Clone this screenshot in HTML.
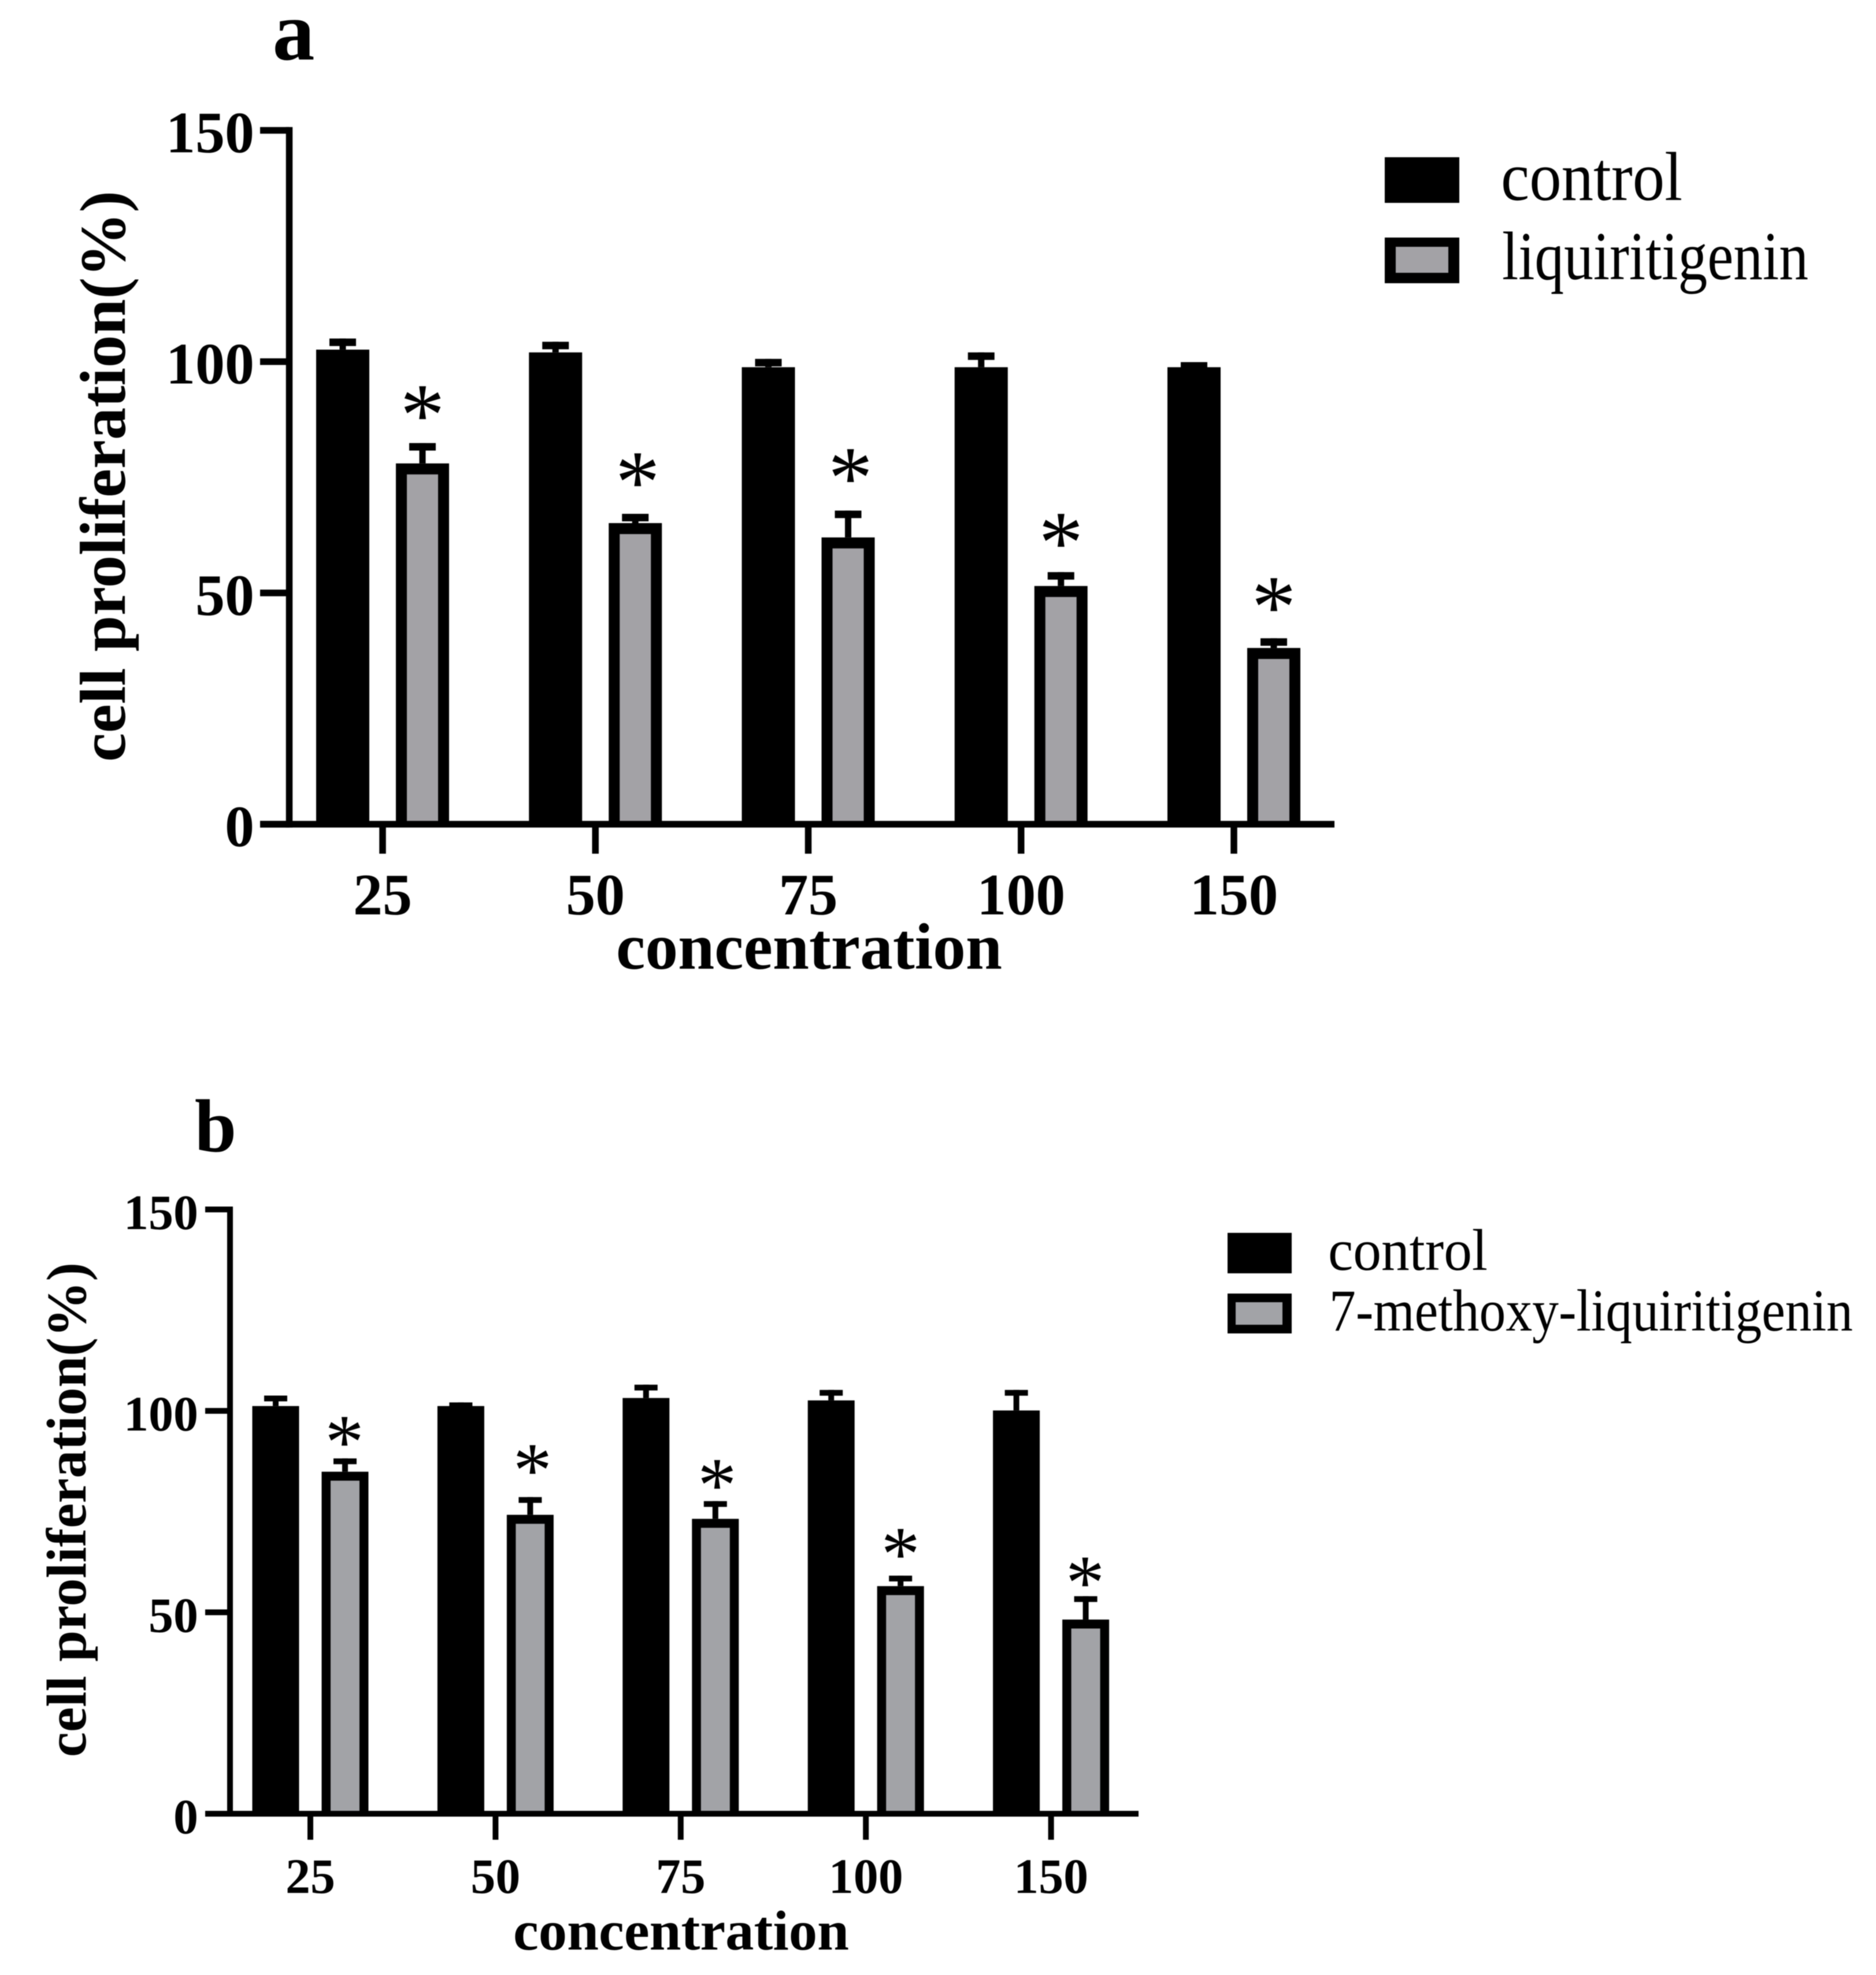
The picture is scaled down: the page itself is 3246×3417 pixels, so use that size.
<!DOCTYPE html>
<html lang="en">
<head>
<meta charset="utf-8">
<title>Cell proliferation bar charts</title>
<style>
html,body{margin:0;padding:0;background:#fff;}
svg{display:block;filter:blur(0.7px);}
text{font-family:"Liberation Serif","Times New Roman",serif;fill:#000;}
.b{font-weight:bold;}
</style>
</head>
<body>
<svg id="figure" xmlns="http://www.w3.org/2000/svg" width="3246" height="3417" viewBox="0 0 3246 3417">
  <rect x="0" y="0" width="3246" height="3417" fill="#ffffff"/>

  <g id="panel-a">
    <text class="b" x="508" y="103" font-size="146" text-anchor="middle">a</text>
    <text class="b" transform="translate(216 1318) rotate(-90)" font-size="112" textLength="988" lengthAdjust="spacingAndGlyphs">cell proliferation(%)</text>
    <text class="b" x="1066" y="1676" font-size="113" textLength="668" lengthAdjust="spacingAndGlyphs">concentration</text>
    <rect x="2396" y="272" width="129" height="79" fill="#000"/>
    <text x="2597" y="346" font-size="120" textLength="314" lengthAdjust="spacingAndGlyphs">control</text>
    <rect x="2396" y="411" width="129" height="79" fill="#000"/>
    <rect x="2415" y="427" width="91" height="45" fill="#a3a2a6"/>
    <text x="2599" y="483" font-size="119" textLength="530" lengthAdjust="spacingAndGlyphs">liquiritigenin</text>
  </g>

  <g id="panel-b">
    <text class="b" x="373" y="1992" font-size="130" text-anchor="middle">b</text>
    <text class="b" transform="translate(148 3040) rotate(-90)" font-size="97" textLength="856" lengthAdjust="spacingAndGlyphs">cell proliferation(%)</text>
    <text class="b" x="888" y="3373" font-size="98" textLength="581" lengthAdjust="spacingAndGlyphs">concentration</text>
    <rect x="2124" y="2133" width="111" height="70" fill="#000"/>
    <text x="2298" y="2197" font-size="102" textLength="276" lengthAdjust="spacingAndGlyphs">control</text>
    <rect x="2124" y="2238" width="111" height="69" fill="#000"/>
    <rect x="2138" y="2253" width="81" height="39" fill="#a2a3a7"/>
    <text x="2300" y="2302" font-size="103" textLength="906" lengthAdjust="spacingAndGlyphs">7-methoxy-liquiritigenin</text>
  </g>
</svg>
<script>
const categories = ['25', '50', '75', '100', '150'];
const yTickValues = [0, 50, 100, 150];

const controlA = [102.6, 102.0, 98.8, 98.8, 98.8];
const controlErrA = [2.4, 2.3, 1.8, 3.2, 1.1];
const liquiritigenin = [78.0, 65.1, 62.0, 51.5, 38.1];
const liquiritigeninErr = [4.4, 2.0, 5.8, 3.0, 2.1];
const starGapA = [8.7, 9.5, 9.7, 9.0, 9.4];

const controlB = [101.2, 101.2, 103.2, 102.6, 100.1];
const controlErrB = [2.6, 0.9, 3.3, 2.6, 5.1];
const methoxy = [84.9, 74.2, 73.2, 56.5, 48.2];
const methoxyErr = [3.3, 4.4, 4.4, 2.6, 5.8];
const starGapB = [6.7, 9.3, 6.6, 8.0, 6.0];

const NS = 'http://www.w3.org/2000/svg';

function makeShape(parent, tag, attrs) {
  const el = document.createElementNS(NS, tag);
  for (const k in attrs) el.setAttribute(k, attrs[k]);
  parent.appendChild(el);
  return el;
}

function drawPanel(root, o, control, controlErr, treated, treatedErr, starGap) {
  const yScale = v => o.y0 - v * o.pxPerUnit;
  const xScale = i => o.x0 + i * o.step;
  const hw = o.axisW / 2;

  categories.forEach((cat, i) => {
    const cx = xScale(i);

    const cTop = yScale(control[i]);
    const cErrTop = yScale(control[i] + controlErr[i]);
    const cc = cx - o.offset;
    const cStem = makeShape(root, 'rect', { x: cc - o.stemW / 2, y: cErrTop, width: o.stemW, height: cTop - cErrTop, fill: '#000' });
    
    
    const cCap = makeShape(root, 'rect', { x: cc - o.capW / 2, y: cErrTop, width: o.capW, height: o.capH, fill: '#000' });
    
    
    const cBar = makeShape(root, 'rect', { x: cc - o.barW / 2, y: cTop, width: o.barW, height: o.y0 - cTop, fill: '#000' });
    
    

    const tTop = yScale(treated[i]);
    const tErrTop = yScale(treated[i] + treatedErr[i]);
    const tc = cx + o.offset;
    const tStem = makeShape(root, 'rect', { x: tc - o.stemW / 2, y: tErrTop, width: o.stemW, height: tTop - tErrTop, fill: '#000' });
    
    
    const tCap = makeShape(root, 'rect', { x: tc - o.capW / 2, y: tErrTop, width: o.capW, height: o.capH, fill: '#000' });
    
    
    const tBar = makeShape(root, 'rect', { x: tc - o.barW / 2, y: tTop, width: o.barW, height: o.y0 - tTop, fill: '#000' });
    
    
    const tFill = makeShape(root, 'rect', { x: tc - o.barW / 2 + o.border, y: tTop + o.border, width: o.barW - 2 * o.border, height: Math.max(0, o.y0 - tTop - o.border), fill: o.grey });
    
    

    const star = makeShape(root, 'text', { x: tc + o.starDx[i], y: yScale(treated[i] + treatedErr[i] + starGap[i]) + o.starFs * o.starShift, 'font-size': o.starFs, 'text-anchor': 'middle' });
    star.textContent = '*';
    
    

    const tick = makeShape(root, 'rect', { x: cx - hw, y: o.y0, width: o.axisW, height: o.tickBottom - o.y0, fill: '#000' });
    
    
    const label = makeShape(root, 'text', { x: cx, y: o.xLabelY, 'font-size': o.tickFs, 'text-anchor': 'middle', 'class': 'b' });
    label.textContent = cat;
    
    
  });

  const yAxis = makeShape(root, 'rect', { x: o.axisX - hw, y: yScale(150) - hw, width: o.axisW, height: o.y0 - yScale(150) + o.axisW, fill: '#000' });
  
  
  const xAxis = makeShape(root, 'rect', { x: o.tickLeft, y: o.y0 - hw, width: o.xEnd - o.tickLeft, height: o.axisW, fill: '#000' });
  
  

  yTickValues.forEach(v => {
    const yt = yScale(v);
    const tick = makeShape(root, 'rect', { x: o.tickLeft, y: yt - hw, width: o.axisX - o.tickLeft, height: o.axisW, fill: '#000' });
    
    
    const label = makeShape(root, 'text', { x: o.yLabelX, y: yt + o.yLabelDy, 'font-size': o.tickFs, 'text-anchor': 'end', 'class': 'b' });
    label.textContent = String(v);
    
    
  });
}

drawPanel(document.getElementById('panel-a'), {
  y0: 1426, pxPerUnit: 8.003, x0: 662, step: 368.25, offset: 69, barW: 92, border: 19,
  stemW: 11, capW: 46, capH: 13, axisX: 500.5, axisW: 11.5, tickLeft: 450, tickBottom: 1477,
  xEnd: 2309, xLabelY: 1582, yLabelX: 440, yLabelDy: 38, tickFs: 102, grey: '#a3a2a6',
  starFs: 155, starShift: 0.47, starDx: [0, 4, 4, 0, 0]
}, controlA, controlErrA, liquiritigenin, liquiritigeninErr, starGapA);

drawPanel(document.getElementById('panel-b'), {
  y0: 3138, pxPerUnit: 6.97, x0: 537, step: 320.4, offset: 60, barW: 81, border: 15.5,
  stemW: 10, capW: 40, capH: 10, axisX: 398, axisW: 10, tickLeft: 355, tickBottom: 3183,
  xEnd: 1970, xLabelY: 3275, yLabelX: 343, yLabelDy: 34, tickFs: 86, grey: '#a2a3a7',
  starFs: 135, starShift: 0.47, starDx: [-1, 4, 3, 0, -1]
}, controlB, controlErrB, methoxy, methoxyErr, starGapB);
</script>
</body>
</html>
